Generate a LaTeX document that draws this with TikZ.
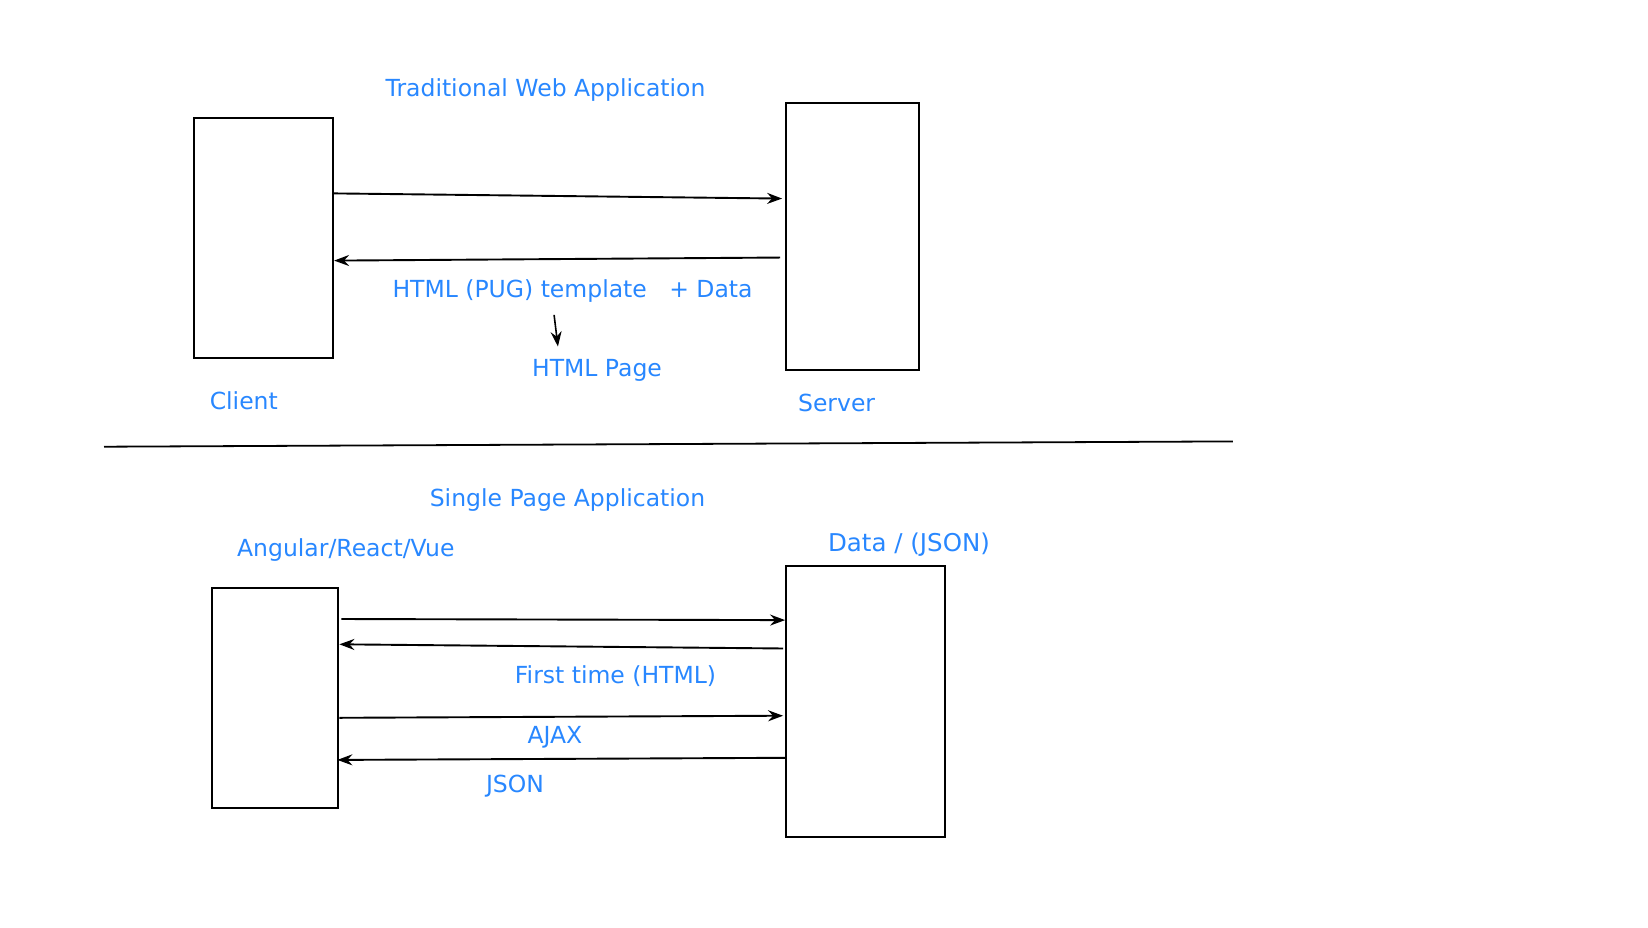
\documentclass[tikz,border=0pt]{standalone}
\usepackage{fontspec}
\setmainfont{DejaVu Sans}
\usetikzlibrary{arrows.meta}
\definecolor{labelblue}{RGB}{40,135,255}

\begin{document}
\begin{tikzpicture}[x=1pt, y=-1pt,
    box/.style={draw, line width=2pt, anchor=north west, inner sep=0pt},
    lbl/.style={text=labelblue, font=\fontsize{23.5}{28}\selectfont},
    arr/.style={line width=1.9pt, -{Stealth[length=15pt, width=11pt, inset=5pt]}}]

    \useasboundingbox (0, 0) rectangle (1648, 927);

    \node[lbl] (title1) at (545.5, 90.5) {Traditional Web Application};

    \node[box, minimum width=138.7pt, minimum height=240.6pt] (client) at (193.4, 116.7) {};
    \node[box, minimum width=132.4pt, minimum height=267pt] (server) at (785.1, 101.9) {};

    \node[lbl] (clientlbl) at (243.8, 400.4) {Client};
    \node[lbl] (serverlbl) at (836.6, 402.5) {Server};

    \draw[arr, shorten >=3pt] (client.east |- 0, 193.4) -- (server.west |- 0, 198.6);
    \draw[arr, shorten <=5pt] (server.west |- 0, 257.5) -- (client.east |- 0, 260.6);

    \node[lbl, anchor=west] (tmpl) at (389, 291) {HTML (PUG) template~~~+ Data};
    \node[lbl] (page) at (597, 370) {HTML Page};
    \draw[arr, line width=1.6pt, shorten <=9pt, shorten >=9pt] (tmpl.south -| 553, 0) -- (page.north -| 559, 0);

    \coordinate (sepl) at (104, 446.7);
    \coordinate (sepr) at (1232.8, 441.4);
    \draw[line width=1.8pt] (sepl) -- (sepr);

    \node[lbl] (title2) at (567.5, 500.3) {Single Page Application};
    \node[lbl] (framework) at (345.8, 549.7) {Angular/React/Vue};
    \node[lbl, font=\fontsize{24.5}{28}\selectfont] (datalbl) at (909, 544.3) {Data / (JSON)};

    \node[box, minimum width=126.1pt, minimum height=220.7pt] (spa) at (211.3, 586.5) {};
    \node[box, minimum width=158.7pt, minimum height=270.1pt] (api) at (785.1, 565.4) {};

    \draw[arr, shorten <=2pt] (spa.east |- 0, 619) -- (api.west |- 0, 620.1);
    \draw[arr, shorten <=2pt] (api.west |- 0, 648.5) -- (spa.east |- 0, 644.3);
    \node[lbl] (first) at (615.5, 675.8) {First time (HTML)};

    \draw[arr, shorten >=2pt] (spa.east |- 0, 717.8) -- (api.west |- 0, 715.7);
    \node[lbl] (ajax) at (554.9, 737.6) {AJAX};

    \draw[arr, shorten >=-2pt] (api.west |- 0, 757.8) -- (spa.east |- 0, 759.9);
    \node[lbl] (json) at (515, 786) {JSON};

\end{tikzpicture}
\end{document}
